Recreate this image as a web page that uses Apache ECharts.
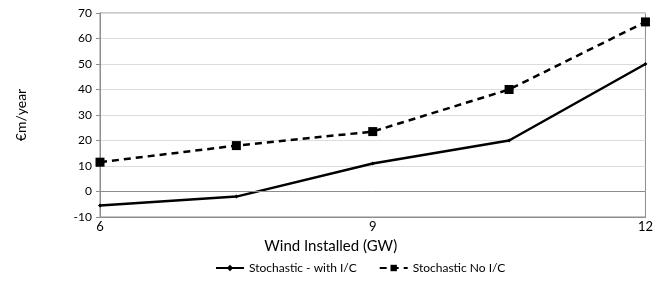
<!DOCTYPE html>
<html>
<head>
<meta charset="utf-8">
<script src="https://cdn.jsdelivr.net/npm/echarts@6/dist/echarts.min.js"></script>
<style>
  html, body { margin: 0; padding: 0; background: #fff; }
  #chart { width: 656px; height: 281px; }
</style>
</head>
<body>
<div id="chart"></div>
<script>
// 风电装机 (GW) 与成本
const windInstalled = [6, 7.5, 9, 10.5, 12];
const withIC = [-5.5, -2, 11, 20, 50];
const noIC = [11.5, 18, 23.5, 40, 66.5];
const seriesNames = ['Stochastic - with I/C', 'Stochastic No I/C'];

const toPairs = (vals) => windInstalled.map((x, i) => [x, vals[i]]);

const chart = echarts.init(document.getElementById('chart'));
const font = 'Lato, "DejaVu Sans", sans-serif';

const option = {
  animation: false,
  grid: {
    left: 100,
    right: 6,
    top: 13,
    bottom: 64,
    show: true,
    borderColor: '#8c8c8c',
    borderWidth: 1,
  },
  legend: {
    bottom: 2,
    left: 210,
    itemWidth: 28,
    itemHeight: 8,
    itemGap: 22,
    textStyle: { fontFamily: font, fontSize: 12, color: '#000' },
    data: seriesNames,
  },
  xAxis: {
    type: 'value',
    min: 6,
    max: 12,
    interval: 3,
    name: 'Wind Installed (GW)',
    nameLocation: 'middle',
    nameGap: 22,
    nameTextStyle: { fontFamily: font, fontSize: 15, color: '#000', padding: [0, 84, 0, 0] },
    axisLine: { onZero: false, lineStyle: { color: '#8c8c8c' } },
    axisTick: { show: false },
    splitLine: { show: false },
    axisLabel: { fontFamily: font, fontSize: 13, color: '#000', margin: 3 },
  },
  yAxis: {
    type: 'value',
    min: -10,
    max: 70,
    interval: 10,
    name: '€m/year',
    nameLocation: 'middle',
    nameGap: 72,
    nameTextStyle: { fontFamily: font, fontSize: 14, color: '#000' },
    axisLine: { show: true, lineStyle: { color: '#8c8c8c' } },
    axisTick: { show: true, length: 4, lineStyle: { color: '#8c8c8c' } },
    splitLine: { lineStyle: { color: '#dcdcdc' } },
    axisLabel: { fontFamily: font, fontSize: 12, color: '#000', margin: 8 },
  },
  series: [
    {
      name: seriesNames[0],
      type: 'line',
      data: toPairs(withIC),
      symbol: 'diamond',
      symbolSize: 4,
      color: '#000',
      lineStyle: { color: '#000', width: 2.5 },
      itemStyle: { color: '#000' },
      markLine: {
        silent: true,
        symbol: 'none',
        label: { show: false },
        lineStyle: { color: '#8c8c8c', type: 'solid', width: 1 },
        data: [{ yAxis: 0 }],
      },
    },
    {
      name: seriesNames[1],
      type: 'line',
      data: toPairs(noIC),
      symbol: 'rect',
      symbolSize: 9,
      color: '#000',
      lineStyle: { color: '#000', width: 2.5, type: [7, 5] },
      itemStyle: { color: '#000' },
    },
  ],
};

chart.setOption(option);
</script>
</body>
</html>
